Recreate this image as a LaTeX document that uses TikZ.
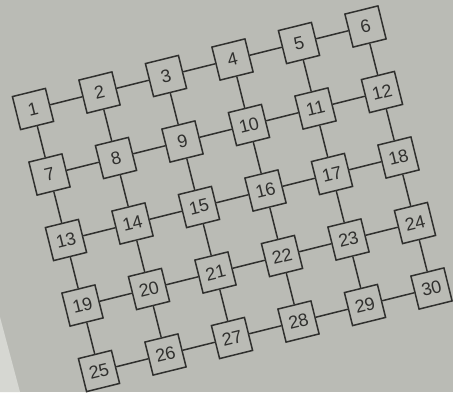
\documentclass[tikz,border=0pt]{standalone}
\usepackage{fontspec}
\setmainfont{Liberation Sans}
\definecolor{bgc}{RGB}{186,187,181}
\definecolor{lightc}{RGB}{214,215,210}
\definecolor{linec}{RGB}{48,48,46}
\begin{document}
\begin{tikzpicture}[x=1pt,y=-1pt,
  box/.style={draw=linec, text=linec, line width=1.5pt, minimum size=34pt, inner sep=0pt, rotate=13.9, font=\fontsize{18}{18}\selectfont},
  conn/.style={draw=linec, line width=1.5pt}]
\fill[bgc] (0,0) rectangle (453,392);
\fill[lightc] (0,317) -- (20,392) -- (0,392) -- cycle;
\useasboundingbox (0,0) rectangle (453,392);
\foreach \i in {0,...,4} {
  \foreach \j in {0,...,5} {
    \pgfmathtruncatemacro\k{\i*6+\j+1}
    \node[box] (n\k) at ({33+66.5*\j+16.5*\i},{109-16.5*\j+65.5*\i}) {\k};
  }
}
\foreach \i in {0,...,4} {
  \foreach \j in {0,...,4} {
    \pgfmathtruncatemacro\a{\i*6+\j+1}
    \pgfmathtruncatemacro\b{\a+1}
    \draw[conn] (n\a) -- (n\b);
  }
}
\foreach \i in {0,...,3} {
  \foreach \j in {0,...,5} {
    \pgfmathtruncatemacro\a{\i*6+\j+1}
    \pgfmathtruncatemacro\b{\a+6}
    \draw[conn] (n\a) -- (n\b);
  }
}
\end{tikzpicture}
\end{document}
